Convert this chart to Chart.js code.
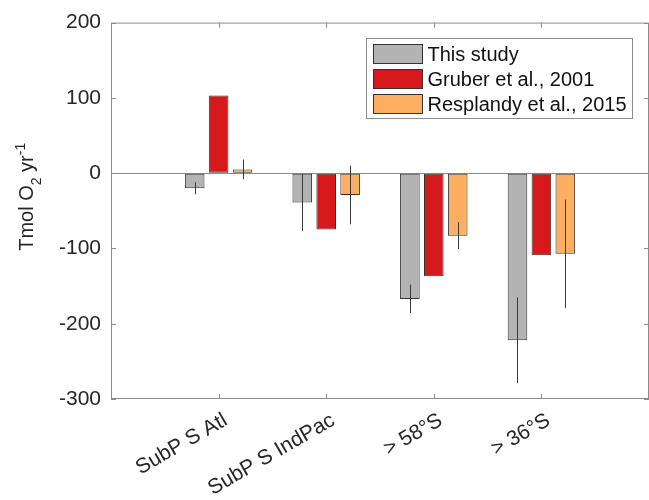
<!DOCTYPE html>
<html>
<head>
<meta charset="utf-8">
<script src="https://cdn.jsdelivr.net/npm/chart.js@4"></script>
<style>
html, body { margin: 0; padding: 0; background: #fff; overflow: hidden; }
#wrap { width: 649px; height: 500px; }
</style>
</head>
<body>
<div id="wrap"><canvas id="chart"></canvas></div>
<script>
// data
var regions = ["SubP S Atl", "SubP S IndPac", "> 58°S", "> 36°S"];
var seriesNames = ["This study", "Gruber et al., 2001", "Resplandy et al., 2015"];
var thisStudy = [-20, -39, -167, -222];
var thisStudyErr = [8, 38, 19, 57];
var gruber = [103, -75, -137, -109];
var resplandy = [5, -29, -83, -107];
var resplandyErr = [13, 39, 18, 72];

var frameColor = "#8c8c8c";
var textColor = "#262626";
var fontFamily = "'Liberation Sans', Arial, Helvetica, sans-serif";

function toPoints(values) {
    return values.map(function (v, i) { return { x: i + 1, y: v }; });
}

// box around the axes with inward ticks, like matlab
var matlabAxes = {
    id: "matlabAxes",
    afterDraw: function (chart) {
        var ctx = chart.ctx, a = chart.chartArea;
        var xs = chart.scales.x, ys = chart.scales.y;
        ctx.save();
        ctx.strokeStyle = frameColor;
        ctx.lineWidth = 1;
        ctx.strokeRect(a.left + 0.5, a.top + 0.5, a.right - a.left - 1, a.bottom - a.top - 1);
        ctx.beginPath();
        xs.ticks.forEach(function (t) {
            if (t.value < 1 || t.value > regions.length) return;
            var px = Math.round(xs.getPixelForValue(t.value)) + 0.5;
            ctx.moveTo(px, a.bottom); ctx.lineTo(px, a.bottom - 5);
            ctx.moveTo(px, a.top); ctx.lineTo(px, a.top + 5);
        });
        ys.ticks.forEach(function (t) {
            var py = Math.round(ys.getPixelForValue(t.value)) + 0.5;
            ctx.moveTo(a.left, py); ctx.lineTo(a.left + 5, py);
            ctx.moveTo(a.right, py); ctx.lineTo(a.right - 5, py);
        });
        ctx.stroke();
        ctx.restore();
    }
};

// plain vertical error bars, no caps
var errorBars = {
    id: "errorBars",
    afterDatasetsDraw: function (chart) {
        var ctx = chart.ctx, ys = chart.scales.y;
        ctx.save();
        ctx.strokeStyle = "#3a3a3a";
        ctx.lineWidth = 1;
        chart.data.datasets.forEach(function (ds, di) {
            if (!ds.errors) return;
            var meta = chart.getDatasetMeta(di);
            ctx.beginPath();
            meta.data.forEach(function (bar, i) {
                var v = ds.data[i].y, e = ds.errors[i];
                var x = Math.round(bar.x) + 0.5;
                ctx.moveTo(x, ys.getPixelForValue(v + e));
                ctx.lineTo(x, ys.getPixelForValue(v - e));
            });
            ctx.stroke();
        });
        ctx.restore();
    }
};

// legend in a box at the top right of the axes
var legendBox = {
    id: "legendBox",
    afterDraw: function (chart) {
        var ctx = chart.ctx, a = chart.chartArea;
        ctx.save();
        ctx.font = "20px " + fontFamily;
        var tw = 0;
        chart.data.datasets.forEach(function (ds) {
            tw = Math.max(tw, ctx.measureText(ds.label).width);
        });
        var sw = 49, sh = 19, row = 25;
        var w = Math.round(7 + sw + 5 + tw + 6), h = 80;
        var x0 = Math.round(a.right - 17 - w) + 0.5, y0 = Math.round(a.top + 15) + 0.5;
        ctx.fillStyle = "#fff";
        ctx.fillRect(x0, y0, w, h);
        ctx.strokeStyle = frameColor;
        ctx.lineWidth = 1;
        ctx.strokeRect(x0, y0, w, h);
        ctx.textBaseline = "middle";
        chart.data.datasets.forEach(function (ds, i) {
            var cy = Math.round(y0 + 15 + i * row);
            ctx.fillStyle = ds.backgroundColor;
            ctx.fillRect(x0 + 7, cy - sh / 2, sw, sh);
            ctx.strokeStyle = "#333";
            ctx.strokeRect(x0 + 7, cy - sh / 2, sw, sh);
            ctx.fillStyle = "#111";
            ctx.fillText(ds.label, x0 + 7 + sw + 5, cy + 1);
        });
        ctx.restore();
    }
};

// y label with real subscript / superscript
var yLabel = {
    id: "yLabel",
    afterDraw: function (chart) {
        var ctx = chart.ctx, a = chart.chartArea;
        var big = "20px " + fontFamily, small = "14px " + fontFamily;
        var parts = [
            { t: "Tmol O", f: big, dy: 0 },
            { t: "2", f: small, dy: 8 },
            { t: " yr", f: big, dy: 0 },
            { t: "-1", f: small, dy: -8 }
        ];
        ctx.save();
        var total = 0;
        parts.forEach(function (p) { ctx.font = p.f; p.w = ctx.measureText(p.t).width; total += p.w; });
        var cy = (a.top + a.bottom) / 2 - 14;
        ctx.translate(33, cy + total / 2);
        ctx.rotate(-Math.PI / 2);
        ctx.fillStyle = textColor;
        ctx.textBaseline = "alphabetic";
        var x = 0;
        parts.forEach(function (p) {
            ctx.font = p.f;
            ctx.fillText(p.t, x, p.dy);
            x += p.w;
        });
        ctx.restore();
    }
};

var ctx = document.getElementById("chart");

new Chart(ctx, {
    type: "bar",
    data: {
        datasets: [
            {
                label: seriesNames[0],
                data: toPoints(thisStudy),
                errors: thisStudyErr,
                backgroundColor: "#b3b3b3",
                borderColor: "#333",
                borderWidth: 1,
                borderSkipped: false
            },
            {
                label: seriesNames[1],
                data: toPoints(gruber),
                backgroundColor: "#d7191c",
                borderColor: "#333",
                borderWidth: 1,
                borderSkipped: false
            },
            {
                label: seriesNames[2],
                data: toPoints(resplandy),
                errors: resplandyErr,
                backgroundColor: "#fdae61",
                borderColor: "#333",
                borderWidth: 1,
                borderSkipped: false
            }
        ]
    },
    options: {
        responsive: true,
        maintainAspectRatio: false,
        animation: false,
        layout: { padding: { top: 22, right: -2, bottom: 0, left: 0 } },
        datasets: { bar: { categoryPercentage: 0.667, barPercentage: 0.82 } },
        plugins: {
            legend: { display: false },
            tooltip: { enabled: false }
        },
        scales: {
            x: {
                type: "linear",
                min: 0,
                max: 5,
                offset: false,
                grid: { display: false },
                border: { display: false },
                ticks: {
                    stepSize: 1,
                    autoSkip: false,
                    minRotation: 30,
                    maxRotation: 30,
                    padding: 1,
                    labelOffset: 7,
                    color: textColor,
                    font: { family: fontFamily, size: 21 },
                    callback: function (v) { return regions[v - 1] || ""; }
                },
                afterFit: function (s) {
                    s.height = 101;
                    s.paddingLeft = 0;
                    s.paddingRight = 0;
                }
            },
            y: {
                min: -300,
                max: 200,
                grid: {
                    drawTicks: false,
                    color: function (c) { return c.tick && c.tick.value === 0 ? frameColor : "rgba(0,0,0,0)"; }
                },
                border: { display: false },
                ticks: {
                    stepSize: 100,
                    padding: 10,
                    color: textColor,
                    font: { family: fontFamily, size: 21 }
                },
                afterFit: function (s) { s.width = 111; }
            }
        }
    },
    plugins: [matlabAxes, errorBars, legendBox, yLabel]
});
</script>
</body>
</html>
